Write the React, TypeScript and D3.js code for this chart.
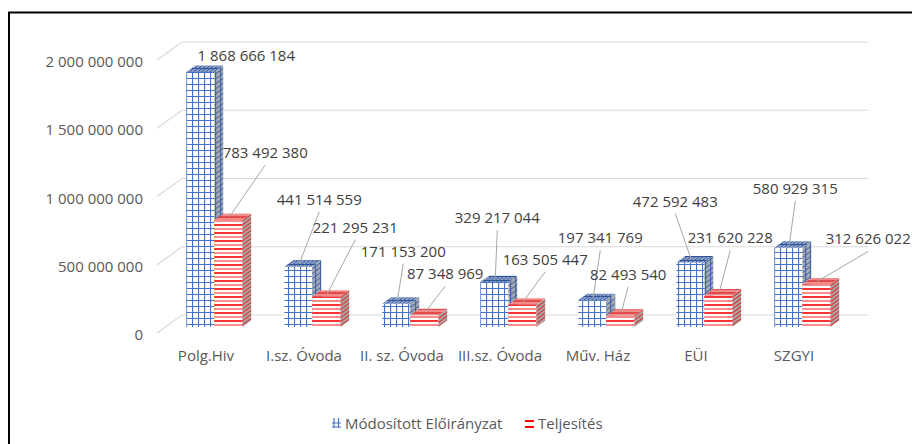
import React from "react";
import * as d3 from "d3";

const categories = ["Polg.Hiv", "I.sz. Óvoda", "II. sz. Óvoda", "III.sz. Óvoda", "Műv. Ház", "EÜI", "SZGYI"];
const seriesNames = ["Módosított Előirányzat", "Teljesítés"];
const modositott = [1868666184, 441514559, 171153200, 329217044, 197341769, 472592483, 580929315];
const teljesites = [783492380, 221295231, 87348969, 163505447, 82493540, 231620228, 312626022];
const yTicks = [0, 500000000, 1000000000, 1500000000, 2000000000];

// data labels were dragged by hand in the original, offsets from the bar top (px)
const blueLabelOffsets = [[46, -17], [21, -68], [7, -53], [3, -65], [8, -63], [-15, -62], [7, -60]];
const redLabelOffsets = [[37, -68], [29, -70], [21, -42], [23, -46], [8, -42], [12, -58], [52, -46]];

const W = 912;
const H = 444;
const floorLeft = 157;
const floorRight = 843;
const floorY = 333;
const depthX = 25;
const depthY = 18;
const zFront = 0.33;
const zBack = 0.69;
const font = "'Open Sans', 'Noto Sans', sans-serif";
const fs = 15;

const fmt = d3.formatLocale({ decimal: ",", thousands: " ", grouping: [3], currency: ["", ""] }).format(",d");

export default function App() {
  const y = d3.scaleLinear().domain([0, 2000000000]).range([floorY, floorY - 273]);
  const x0 = d3.scaleBand().domain(categories).range([floorLeft, floorRight]).paddingInner(0.43).paddingOuter(0.215);
  const x1 = d3.scaleBand().domain(seriesNames).range([0, x0.bandwidth()]);

  const proj = (x: number, v: number, z: number) => [x + depthX * z, y(v) - depthY * z];
  const pts = (arr: number[][]) => arr.map((p) => p.join(",")).join(" ");

  const series = [
    { name: seriesNames[0], values: modositott, offsets: blueLabelOffsets, front: "url(#blueFront)", top: "url(#blueTop)", side: "url(#blueSide)" },
    { name: seriesNames[1], values: teljesites, offsets: redLabelOffsets, front: "url(#redFront)", top: "url(#redTop)", side: "url(#redSide)" },
  ];

  const bars: any[] = [];
  const labels: any[] = [];
  categories.forEach((cat, i) => {
    series.forEach((s, si) => {
      const v = s.values[i];
      const xL = (x0(cat) as number) + (x1(s.name) as number);
      const xR = xL + x1.bandwidth();
      const front = [proj(xL, 0, zFront), proj(xR, 0, zFront), proj(xR, v, zFront), proj(xL, v, zFront)];
      const top = [proj(xL, v, zFront), proj(xR, v, zFront), proj(xR, v, zBack), proj(xL, v, zBack)];
      const side = [proj(xR, 0, zFront), proj(xR, 0, zBack), proj(xR, v, zBack), proj(xR, v, zFront)];
      bars.push(
        <g key={cat + si}>
          <polygon points={pts(side)} fill={s.side} />
          <polygon points={pts(front)} fill={s.front} />
          <polygon points={pts(top)} fill={s.top} />
        </g>
      );
      const anchor = proj((xL + xR) / 2, v, zFront);
      const cx = anchor[0] + s.offsets[i][0];
      const cy = anchor[1] + s.offsets[i][1];
      const sx = anchor[0] + 1;
      const sy = anchor[1] - 3;
      const showLeader = sy - (cy + 13) > 10;
      labels.push(
        <g key={"l" + cat + si}>
          {showLeader && <line x1={sx} y1={sy} x2={cx} y2={cy + 13} stroke="#a6a6a6" strokeWidth={1} />}
          <text x={cx} y={cy} textAnchor="middle" dominantBaseline="central" fontSize={fs} fill="#404040">
            {fmt(v)}
          </text>
        </g>
      );
    });
  });

  return (
    <svg width={W} height={H} style={{ position: "absolute", left: 0, top: 0, background: "#fff" }} fontFamily={font}>
      <defs>
        <pattern id="blueFront" width={6} height={6} patternUnits="userSpaceOnUse">
          <rect width={6} height={6} fill="#fff" />
          <path d="M0.5 0V6M0 0.5H6" stroke="#4472C4" strokeWidth={1.2} />
        </pattern>
        <pattern id="blueTop" width={4} height={4} patternUnits="userSpaceOnUse" patternTransform="skewX(-54)">
          <rect width={4} height={4} fill="#8ea2cc" />
          <path d="M0.5 0V4M0 0.5H4" stroke="#2f5597" strokeWidth={1.2} />
        </pattern>
        <pattern id="blueSide" width={5} height={5} patternUnits="userSpaceOnUse" patternTransform="skewY(-36)">
          <rect width={5} height={5} fill="#a4a8b0" />
          <path d="M0 0.5H5M0.5 0V5" stroke="#3a5ea8" strokeWidth={1} />
        </pattern>
        <pattern id="redFront" width={8} height={8} patternUnits="userSpaceOnUse">
          <rect width={8} height={8} fill="#fff" />
          <path d="M0 1H8" stroke="#ff0000" strokeWidth={1.6} />
          <path d="M0 5H8" stroke="#ff7070" strokeWidth={1.6} />
        </pattern>
        <pattern id="redTop" width={4} height={4} patternUnits="userSpaceOnUse">
          <rect width={4} height={4} fill="#f28a8a" />
          <path d="M0 1H4" stroke="#d62020" strokeWidth={1.2} />
        </pattern>
        <pattern id="redSide" width={4} height={4} patternUnits="userSpaceOnUse" patternTransform="skewY(-36)">
          <rect width={4} height={4} fill="#a9a9a9" />
          <path d="M0 1H4" stroke="#e02020" strokeWidth={1.3} />
        </pattern>
      </defs>

      <rect x={9} y={12.5} width={W + 20} height={H + 20} fill="none" stroke="#000" strokeWidth={2} />

      {yTicks.map((t) => (
        <g key={t}>
          <path
            d={`M${floorLeft},${y(t)}L${floorLeft + depthX},${y(t) - depthY}L${floorRight + depthX},${y(t) - depthY}`}
            fill="none"
            stroke="#d9d9d9"
            strokeWidth={1.2}
          />
          <text x={143} y={y(t) + 1} textAnchor="end" dominantBaseline="central" fontSize={fs} fill="#595959">
            {fmt(t)}
          </text>
        </g>
      ))}

      {bars}

      {categories.map((cat) => (
        <text key={cat} x={(x0(cat) as number) + x0.bandwidth() / 2} y={355} textAnchor="middle" dominantBaseline="central" fontSize={fs} fill="#595959">
          {cat}
        </text>
      ))}

      {labels}

      <g>
        <path d="M334,418V428M338.5,418V428M332,423H341M332,427H341" stroke="#4472C4" strokeWidth={1.2} />
        <text x={345} y={423} dominantBaseline="central" fontSize={fs} fill="#595959">
          {seriesNames[0]}
        </text>
        <path d="M525,421H534M525,427H534" stroke="#ff0000" strokeWidth={2} />
        <text x={538} y={423} dominantBaseline="central" fontSize={fs} fill="#595959">
          {seriesNames[1]}
        </text>
      </g>
    </svg>
  );
}
